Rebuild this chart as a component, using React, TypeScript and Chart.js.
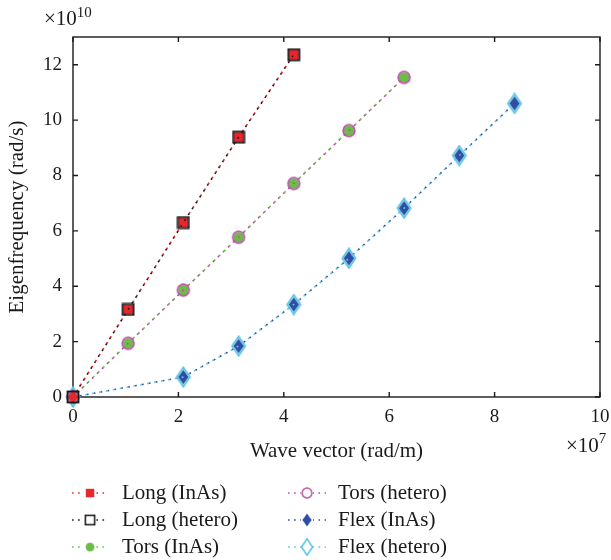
import React, { useEffect, useRef } from "react";
import { Chart, registerables } from "chart.js";

Chart.register(...registerables);

// Wave vector (×10^7 rad/m) and eigenfrequency (×10^10 rad/s)
const longK = [0, 1.047, 2.094, 3.142, 4.189];
const longInAs = [0, 3.16, 6.3, 9.38, 12.36];
const longHetero = [0, 3.16, 6.3, 9.38, 12.36];

const torsK = [0, 1.047, 2.094, 3.142, 4.189, 5.236, 6.283];
const torsInAs = [0, 1.94, 3.86, 5.77, 7.71, 9.62, 11.54];
const torsHetero = [0, 1.94, 3.86, 5.77, 7.71, 9.62, 11.54];

const flexK = [0, 2.094, 3.142, 4.189, 5.236, 6.283, 7.33, 8.378];
const flexInAs = [0, 0.72, 1.84, 3.34, 5.01, 6.82, 8.72, 10.6];
const flexHetero = [0, 0.72, 1.84, 3.34, 5.01, 6.82, 8.72, 10.6];

const seriesLabels = [
  "Long (InAs)",
  "Long (hetero)",
  "Tors (InAs)",
  "Tors (hetero)",
  "Flex (InAs)",
  "Flex (hetero)",
];

const xTicks = [0, 2, 4, 6, 8, 10];
const yTicks = [0, 2, 4, 6, 8, 10, 12];

const xTitle = "Wave vector (rad/m)";
const yTitle = "Eigenfrequency (rad/s)";

const FONT = "'Liberation Serif', 'Times New Roman', serif";

const colors = {
  red: "#e8262c",
  black: "#1a1a1a",
  green: "#6cbd45",
  pink: "#b453a4",
  blue: "#2e4ea2",
  cyan: "#5ec4e6",
};

function makeCanvas(w: number, h: number, draw: (c: CanvasRenderingContext2D) => void) {
  const cv = document.createElement("canvas");
  cv.width = w;
  cv.height = h;
  const c = cv.getContext("2d")!;
  draw(c);
  return cv;
}

function pts(xs: number[], ys: number[]) {
  return xs.map((x, i) => ({ x, y: ys[i] }));
}

export default function App() {
  const ref = useRef<HTMLCanvasElement | null>(null);

  useEffect(() => {
    if (!ref.current) return;

    const redSquare = makeCanvas(12, 12, (c) => {
      c.fillStyle = colors.red;
      c.fillRect(1, 1, 10, 10);
    });
    const blackSquare = makeCanvas(14, 14, (c) => {
      c.strokeStyle = colors.black;
      c.lineWidth = 1.8;
      c.strokeRect(1.5, 1.5, 11, 11);
    });
    const greenCircle = makeCanvas(14, 14, (c) => {
      c.fillStyle = colors.green;
      c.beginPath();
      c.arc(7, 7, 5.2, 0, Math.PI * 2);
      c.fill();
    });
    const pinkCircle = makeCanvas(16, 16, (c) => {
      c.strokeStyle = colors.pink;
      c.lineWidth = 1.8;
      c.beginPath();
      c.arc(8, 8, 5.8, 0, Math.PI * 2);
      c.stroke();
    });
    const blueDiamond = makeCanvas(14, 18, (c) => {
      c.fillStyle = colors.blue;
      c.beginPath();
      c.moveTo(7, 1.5);
      c.lineTo(12.5, 9);
      c.lineTo(7, 16.5);
      c.lineTo(1.5, 9);
      c.closePath();
      c.fill();
    });
    const cyanDiamond = makeCanvas(18, 22, (c) => {
      c.strokeStyle = colors.cyan;
      c.lineWidth = 2;
      c.beginPath();
      c.moveTo(9, 1.5);
      c.lineTo(15.5, 11);
      c.lineTo(9, 20.5);
      c.lineTo(2.5, 11);
      c.closePath();
      c.stroke();
    });

    const markers = [redSquare, blackSquare, greenCircle, pinkCircle, blueDiamond, cyanDiamond];
    const lineColors = [colors.red, colors.black, colors.green, colors.pink, colors.blue, colors.cyan];
    const xs = [longK, longK, torsK, torsK, flexK, flexK];
    const ys = [longInAs, longHetero, torsInAs, torsHetero, flexInAs, flexHetero];

    const datasets = seriesLabels.map((label, i) => ({
      label,
      data: pts(xs[i], ys[i]),
      borderColor: lineColors[i],
      backgroundColor: lineColors[i],
      borderWidth: 1.6,
      borderDash: [1.8, 5.2],
      borderDashOffset: i % 2 === 1 ? 1.6 : 0,
      pointStyle: markers[i] as any,
      pointRadius: 6,
      pointHoverRadius: 6,
      tension: 0,
      clip: false as any,
      order: i % 2 === 1 ? 0 : 1,
    }));

    const framePlugin = {
      id: "frame",
      beforeDatasetsDraw(chart: any) {
        const { ctx, chartArea: a, scales } = chart;
        ctx.save();
        ctx.strokeStyle = "#1a1a1a";
        ctx.lineWidth = 1.4;
        ctx.strokeRect(a.left, a.top, a.right - a.left, a.bottom - a.top);
        const tl = 5;
        ctx.beginPath();
        xTicks.forEach((v) => {
          const px = scales.x.getPixelForValue(v);
          ctx.moveTo(px, a.bottom);
          ctx.lineTo(px, a.bottom - tl);
          ctx.moveTo(px, a.top);
          ctx.lineTo(px, a.top + tl);
        });
        yTicks.forEach((v) => {
          const py = scales.y.getPixelForValue(v);
          ctx.moveTo(a.left, py);
          ctx.lineTo(a.left + tl, py);
          ctx.moveTo(a.right, py);
          ctx.lineTo(a.right - tl, py);
        });
        ctx.stroke();
        ctx.restore();
      },
      afterDraw(chart: any) {
        const { ctx } = chart;
        ctx.save();
        ctx.fillStyle = "#1a1a1a";
        ctx.textBaseline = "alphabetic";
        ctx.textAlign = "left";
        // exponent labels
        ctx.font = `21px ${FONT}`;
        ctx.fillText("\u00d710", 44, 25);
        let w = ctx.measureText("\u00d710").width;
        ctx.font = `15px ${FONT}`;
        ctx.fillText("10", 44 + w, 17);
        ctx.font = `21px ${FONT}`;
        ctx.fillText("\u00d710", 566, 452);
        w = ctx.measureText("\u00d710").width;
        ctx.font = `15px ${FONT}`;
        ctx.fillText("7", 566 + w, 443);

        // legend (column-major, 2 columns x 3 rows)
        const rowsY = [493, 520, 547];
        const cols = [
          { lineStart: 72, marker: 90, lineEnd: 108, text: 122 },
          { lineStart: 288, marker: 307, lineEnd: 326, text: 338 },
        ];
        seriesLabels.forEach((label, i) => {
          const col = cols[Math.floor(i / 3)];
          const y = rowsY[i % 3];
          ctx.strokeStyle = lineColors[i];
          ctx.lineWidth = 1.5;
          ctx.setLineDash([1.6, 4.5]);
          ctx.beginPath();
          ctx.moveTo(col.lineStart, y);
          ctx.lineTo(col.lineEnd, y);
          ctx.stroke();
          ctx.setLineDash([]);
          const m = markers[i];
          const s = 0.85;
          ctx.fillStyle = "#ffffff";
          ctx.fillRect(col.marker - 6, y - 8, 12, 16);
          ctx.drawImage(m, col.marker - (m.width * s) / 2, y - (m.height * s) / 2, m.width * s, m.height * s);
          ctx.fillStyle = "#1a1a1a";
          ctx.font = `21px ${FONT}`;
          ctx.textBaseline = "middle";
          ctx.fillText(label, col.text, y);
        });
        ctx.restore();
      },
    };

    const chart = new Chart(ref.current, {
      type: "line",
      data: { datasets },
      options: {
        animation: false,
        responsive: false,
        events: [],
        layout: { padding: { left: 0, right: 11, top: 37, bottom: 93 } },
        plugins: {
          legend: { display: false },
          tooltip: { enabled: false },
        },
        scales: {
          x: {
            type: "linear",
            min: 0,
            max: 10,
            grid: { display: false, drawTicks: false },
            border: { display: false },
            afterBuildTicks: (s: any) => {
              s.ticks = xTicks.map((v) => ({ value: v }));
            },
            afterFit: (s: any) => {
              s.height = 70;
              s.paddingLeft = 0;
              s.paddingRight = 0;
            },
            ticks: {
              padding: 9,
              color: "#1a1a1a",
              font: { family: FONT, size: 19 },
              maxRotation: 0,
              callback: (v: any) => String(v),
            },
            title: {
              display: true,
              text: xTitle,
              color: "#1a1a1a",
              font: { family: FONT, size: 21 },
              padding: { top: 0, bottom: 3 },
            },
          },
          y: {
            type: "linear",
            min: 0,
            max: 13,
            grid: { display: false, drawTicks: false },
            border: { display: false },
            afterBuildTicks: (s: any) => {
              s.ticks = yTicks.map((v) => ({ value: v }));
            },
            afterFit: (s: any) => {
              s.width = 73;
              s.paddingTop = 0;
              s.paddingBottom = 0;
            },
            ticks: {
              padding: 11,
              color: "#1a1a1a",
              font: { family: FONT, size: 19 },
              callback: (v: any) => String(v),
            },
            title: {
              display: true,
              text: yTitle,
              color: "#1a1a1a",
              font: { family: FONT, size: 21 },
              padding: { top: 5, bottom: 0 },
            },
          },
        },
      },
      plugins: [framePlugin],
    });

    return () => chart.destroy();
  }, []);

  return (
    <div style={{ position: "fixed", left: 0, top: 0, width: 611, height: 560, background: "#fff" }}>
      <canvas ref={ref} width={611} height={560} style={{ width: 611, height: 560, display: "block" }} />
    </div>
  );
}
